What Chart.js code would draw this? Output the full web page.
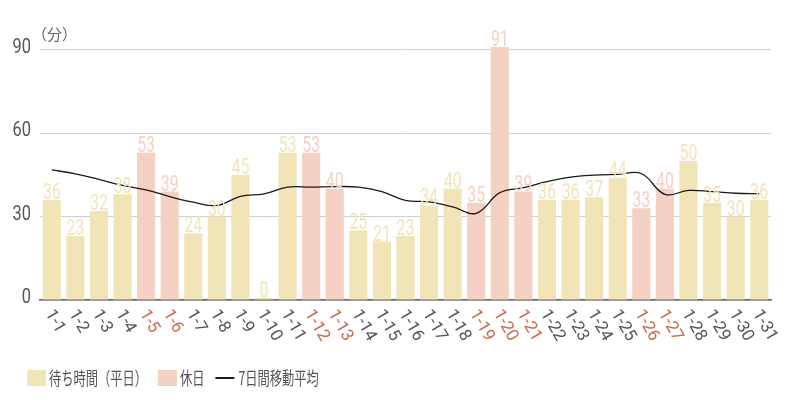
<!DOCTYPE html>
<html>
<head>
<meta charset="utf-8">
<style>
  html, body { margin: 0; padding: 0; background: #fff; }
  #wrap { width: 800px; height: 400px; }
</style>
</head>
<body>
<div id="wrap"><canvas id="chart"></canvas></div>
<script src="https://cdn.jsdelivr.net/npm/chart.js@4/dist/chart.umd.min.js"></script>
<script>
// data
const days = ['1-1','1-2','1-3','1-4','1-5','1-6','1-7','1-8','1-9','1-10',
  '1-11','1-12','1-13','1-14','1-15','1-16','1-17','1-18','1-19','1-20',
  '1-21','1-22','1-23','1-24','1-25','1-26','1-27','1-28','1-29','1-30','1-31'];
const weekdayWait = [36,23,32,38,null,null,24,30,45,0,
  53,null,null,25,21,23,34,40,null,null,
  null,36,36,37,44,null,null,50,35,30,36];
const holidayWait = [null,null,null,null,53,39,null,null,null,null,
  null,53,40,null,null,null,null,null,35,91,
  39,null,null,null,null,33,40,null,null,null,null];
const movingAvg = [46.8,45.4,43.4,41.2,39.6,37.2,35.2,34.0,37.3,38.2,
  40.6,40.6,40.8,40.6,39.0,35.8,35.3,33.5,31.2,38.6,
  40.4,42.6,44.2,44.9,45.2,45.5,38.0,39.4,39.0,38.4,38.2];
const yTicks = [0, 30, 60, 90];
const seriesNames = ['待ち時間（平日）', '休日', '7日間移動平均'];

const YELLOW = '#F1E5B8';
const PINK = '#F5D1C4';
const GRAY_TEXT = '#555';
const RED_TEXT = '#C96A4B';

// draw squeezed text (the original uses a condensed face)
function narrowText(ctx, text, x, y, sx) {
    ctx.save();
    ctx.translate(x, y);
    ctx.scale(sx, 1);
    ctx.fillText(text, 0, 0);
    ctx.restore();
}

const extras = {
    id: 'extras',
    afterDatasetsDraw(chart) {
        const ctx = chart.ctx;
        const area = chart.chartArea;

        // value labels above bars
        [0, 1].forEach(di => {
            const meta = chart.getDatasetMeta(di);
            const ds = chart.data.datasets[di];
            meta.data.forEach((bar, i) => {
                const v = ds.data[i];
                if (v === null) return;
                ctx.save();
                ctx.font = '22px Roboto';
                ctx.fillStyle = ds.backgroundColor;
                ctx.textAlign = 'center';
                ctx.textBaseline = 'alphabetic';
                narrowText(ctx, String(v), bar.x, bar.y - 1, 0.72);
                ctx.restore();
            });
        });

        // y tick labels
        const ys = chart.scales.y;
        ctx.save();
        ctx.font = '21px Roboto';
        ctx.fillStyle = GRAY_TEXT;
        ctx.textAlign = 'right';
        ctx.textBaseline = 'middle';
        yTicks.forEach(v => {
            narrowText(ctx, String(v), 31, ys.getPixelForValue(v) - 2, 0.78);
        });
        ctx.restore();

        // rotated day labels
        const xs = chart.scales.x;
        ctx.save();
        ctx.font = '17px Roboto';
        ctx.textAlign = 'left';
        ctx.textBaseline = 'middle';
        days.forEach((d, i) => {
            const x = xs.getPixelForValue(i);
            ctx.save();
            ctx.translate(x - 3, area.bottom + 11);
            ctx.rotate(Math.PI / 3);
            ctx.fillStyle = holidayWait[i] !== null ? RED_TEXT : GRAY_TEXT;
            ctx.fillText(d, 0, 0);
            ctx.restore();
        });
        ctx.restore();

        // unit label
        ctx.save();
        ctx.font = '15px "Noto Sans CJK JP"';
        ctx.fillStyle = '#666';
        ctx.textAlign = 'left';
        ctx.textBaseline = 'middle';
        ctx.fillText('（分）', area.left - 8, 34);
        ctx.restore();

        // legend
        ctx.save();
        ctx.font = '18px "Noto Sans CJK JP"';
        ctx.textBaseline = 'middle';
        ctx.textAlign = 'left';
        const ly = 378;
        let lx = 27;
        chart.data.datasets.forEach(ds => {
            if (ds.type === 'line') {
                ctx.strokeStyle = ds.borderColor;
                ctx.lineWidth = 2;
                ctx.beginPath();
                ctx.moveTo(lx, ly);
                ctx.lineTo(lx + 19, ly);
                ctx.stroke();
            } else {
                ctx.fillStyle = ds.backgroundColor;
                ctx.fillRect(lx, ly - 8, 19, 16);
            }
            ctx.fillStyle = GRAY_TEXT;
            const tx = lx + (ds.type === 'line' ? 23 : 22);
            narrowText(ctx, ds.label, tx, ly, 0.68);
            lx = tx + ctx.measureText(ds.label).width * 0.68 + 11;
        });
        ctx.restore();
    }
};

const ctx = document.getElementById('chart').getContext('2d');
const chart = new Chart(ctx, {
    data: {
        labels: days,
        datasets: [
            {
                type: 'bar',
                label: seriesNames[0],
                data: weekdayWait,
                backgroundColor: YELLOW,
                grouped: false,
                categoryPercentage: 1,
                barPercentage: 0.77,
                minBarLength: 2,
                order: 2
            },
            {
                type: 'bar',
                label: seriesNames[1],
                data: holidayWait,
                backgroundColor: PINK,
                grouped: false,
                categoryPercentage: 1,
                barPercentage: 0.77,
                order: 2
            },
            {
                type: 'line',
                label: seriesNames[2],
                data: movingAvg,
                borderColor: '#1a1a1a',
                borderWidth: 1.3,
                pointRadius: 0,
                tension: 0.4,
                fill: false,
                order: 1
            }
        ]
    },
    options: {
        responsive: true,
        maintainAspectRatio: false,
        animation: false,
        layout: {
            padding: { left: 0, right: 29, top: 47, bottom: 0 }
        },
        scales: {
            x: {
                grid: { display: false },
                border: { color: '#666', width: 1.5 },
                ticks: { display: false },
                afterFit: scale => { scale.height = 100; }
            },
            y: {
                min: 0,
                max: 91,
                afterBuildTicks: scale => {
                    scale.ticks = yTicks.map(v => ({ value: v }));
                },
                afterFit: scale => { scale.width = 40; },
                grid: { color: '#cfcfcf', lineWidth: 1, drawTicks: false },
                border: { display: false },
                ticks: { display: false }
            }
        },
        plugins: {
            legend: { display: false },
            tooltip: { enabled: false }
        }
    },
    plugins: [extras]
});
</script>
</body>
</html>
